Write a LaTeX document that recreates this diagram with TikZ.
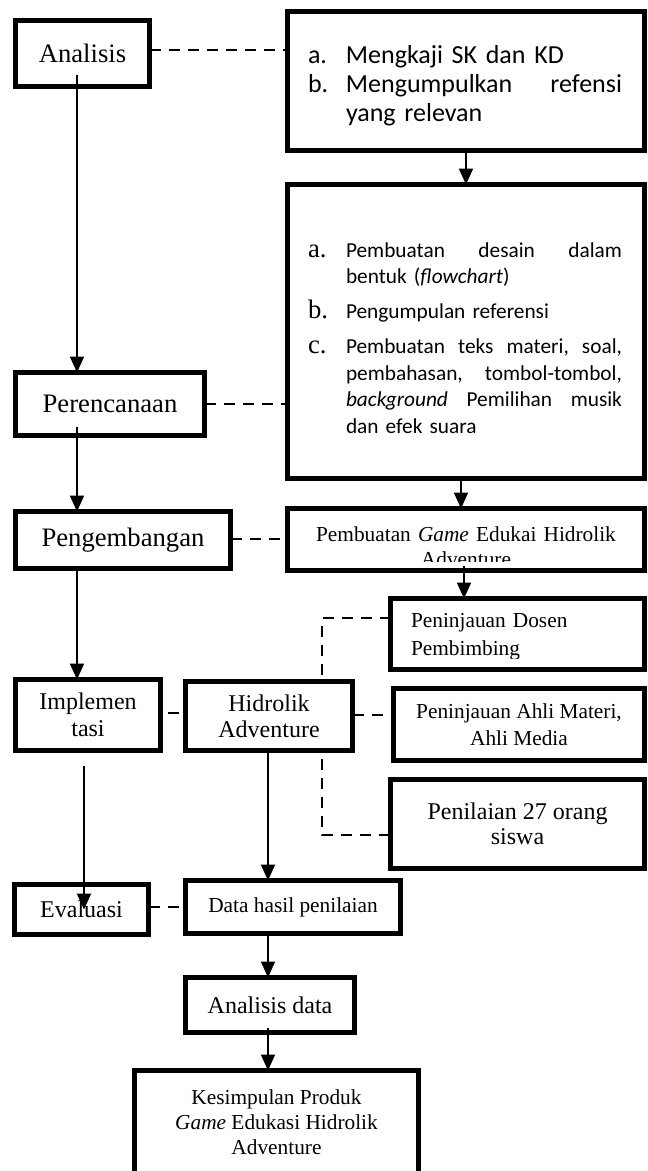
\documentclass[tikz,border=0pt]{standalone}
\usepackage{fontspec}
\setmainfont{Liberation Serif}
\newfontfamily\calfont{Carlito}
\usetikzlibrary{arrows.meta,backgrounds}
\newcommand\lab[1]{\leavevmode\llap{\makebox[28.5pt][l]{#1}}}
\newcommand\fs[2]{\fontsize{#1}{#2}\selectfont}
\begin{document}
\begin{tikzpicture}[x=0.75pt,y=-0.75pt,
  box/.style={draw, line width=3.75pt, fill=white, inner sep=0pt, outer sep=0pt, align=center},
  arr/.style={line width=1.5pt, -{Triangle[width=10.5pt,length=12pt]}},
  dsh/.style={line width=1.875pt, dash pattern=on 8.25pt off 6pt},
  txt/.style={inner sep=0pt, outer sep=0pt}
  ]
\useasboundingbox (0,0) rectangle (648,1171);
\clip (0,0) rectangle (648,1171);

% boxes
\node[box, minimum width=100.5pt, minimum height=49.5pt, font=\fs{20}{22}] (ana) at (82.5,53.5) {Analisis};
\node[box, minimum width=267.75pt, minimum height=104.25pt] (A) at (466,81) {};
\node[box, minimum width=267.75pt, minimum height=220.5pt] (B) at (466,331.5) {};
\node[box, minimum width=141.75pt, minimum height=47.25pt, font=\fs{20}{22}] (per) at (110,404) {Perencanaan};
\node[box, minimum width=161.25pt, minimum height=42.75pt, font=\fs{20}{22}] (peng) at (123,540) {Pengembangan};
\node[box, minimum width=267.75pt, minimum height=46.5pt] (C) at (466,539.5) {};
\node[box, minimum width=190.5pt, minimum height=53.25pt] (D) at (517.5,634) {};
\node[box, minimum width=108.75pt, minimum height=53.25pt, font=\fs{18}{20.25}] (impl) at (88,715) {Implemen\\tasi};
\node[box, minimum width=125.25pt, minimum height=51.75pt, font=\fs{18}{19.5}] (hid) at (269,716) {Hidrolik\\Adventure};
\node[box, minimum width=188.25pt, minimum height=54pt, font=\fs{16}{20.25}] (E) at (519,724.5) {Peninjauan Ahli Materi,\\Ahli Media};
\node[box, minimum width=190.5pt, minimum height=66.75pt, font=\fs{18}{18.75}] (F) at (517.5,824) {Penilaian 27 orang\\siswa};
\node[box, minimum width=100.5pt, minimum height=37.5pt, font=\fs{18}{20}] (eva) at (81.5,909.5) {Evaluasi};
\node[box, minimum width=161.25pt, minimum height=39.75pt, font=\fs{16}{18}] (data) at (293,907) {Data hasil penilaian};
\node[box, minimum width=126.75pt, minimum height=41.25pt, font=\fs{18}{20}] (andata) at (270,1005) {Analisis data};
\node[box, minimum width=213pt, minimum height=77.25pt, font=\fs{16}{18.75}] (kes) at (276.5,1122) {Kesimpulan Produk\\\textit{Game} Edukasi Hidrolik\\Adventure};

% texts of the right column
\node[txt, anchor=base west, text width=207pt, align=left, font=\calfont\fs{19.5}{21.75}] (At) at (346,63)
  {\lab{a.}Mengkaji SK dan KD\\
   \lab{b.}Mengumpulkan\hfill refensi\\
   yang relevan};
\node[txt, anchor=base west, text width=207pt, align=left, font=\calfont\fs{16}{19.875}] (Bt) at (346,257)
  {\lab{\rmfamily\fs{20}{20}a.}Pembuatan\hfill desain\hfill dalam\\
   bentuk (\textit{flowchart})\\[6.4pt]
   \lab{\rmfamily\fs{20}{20}b.}Pengumpulan referensi\\[6.4pt]
   \lab{\rmfamily\fs{20}{20}c.}Pembuatan\hfill teks\hfill materi,\hfill soal,\\
   pembahasan,\hfill tombol-tombol,\\
   \textit{background}\hfill Pemilihan\hfill musik\\
   dan efek suara};
\begin{scope}
  \clip (285,506) rectangle (647,561);
  \node[txt, anchor=base, text width=262.5pt, align=center, font=\fs{16}{18.75}] (Ct) at (466,541)
    {Pembuatan \textit{Game} Edukai Hidrolik\\Adventure};
\end{scope}
\begin{scope}
  \clip (388,596) rectangle (647,658);
  \node[txt, anchor=base west, text width=172.5pt, align=left, font=\fs{16}{21}] (Dt) at (411,627)
    {Peninjauan Dosen\\Pembimbing};
\end{scope}

% dashed bracket behind the Hidrolik box
\coordinate (k1) at (322,618);
\coordinate (k2) at (322,835);
\begin{pgfonlayer}{background}
  \draw[dsh] (k1 -| D.west) -- (k1) -- (k2) -- (k2 -| F.west);
\end{pgfonlayer}

% dashed links
\coordinate (q1) at ([shift={(0,-3.5)}]ana.east);
\draw[dsh] (q1) -- (q1 -| A.west);
\draw[dsh] (per.east) -- (per.east -| B.west);
\coordinate (q3) at ([shift={(0,-1)}]peng.east);
\draw[dsh] (q3) -- (q3 -| C.west);
\coordinate (q4) at ([shift={(0,-2)}]impl.east);
\draw[dsh, dash phase=9pt] (q4) -- (q4 -| hid.west);
\coordinate (q5) at ([shift={(0,-1)}]hid.east);
\draw[dsh] (q5) -- (q5 -| E.west);
\coordinate (q6) at ([shift={(0,-2.5)}]eva.east);
\draw[dsh] (q6) -- (q6 -| data.west);

% arrows
\coordinate (p1) at ([shift={(-5.5,-12)}]ana.south);
\draw[arr] (p1) -- (p1 |- per.north);
\coordinate (p2) at ([shift={(-33,-9)}]per.south);
\draw[arr] (p2) -- (p2 |- peng.north);
\coordinate (p3) at ([shift={(-46,0)}]peng.south);
\draw[arr] (p3) -- (p3 |- impl.north);
\coordinate (p4) at ([shift={(-4,15)}]impl.south);
\draw[arr] (p4) -- (p4 |- eva.center);
\draw[arr] (A.south) -- (B.north);
\coordinate (p6) at ([shift={(-5,0)}]B.south);
\draw[arr] (p6) -- (p6 |- C.north);
\coordinate (p7) at ([shift={(-2,-5)}]C.south);
\draw[arr] (p7) -- (p7 |- D.north);
\coordinate (p8) at ([shift={(-1,0)}]hid.south);
\draw[arr] (p8) -- (p8 |- data.north);
\coordinate (p9) at ([shift={(-25,0)}]data.south);
\draw[arr] (p9) -- (p9 |- andata.north);
\coordinate (p10) at ([shift={(-2,-5)}]andata.south);
\draw[arr] (p10) -- (p10 |- kes.north);
\end{tikzpicture}
\end{document}
